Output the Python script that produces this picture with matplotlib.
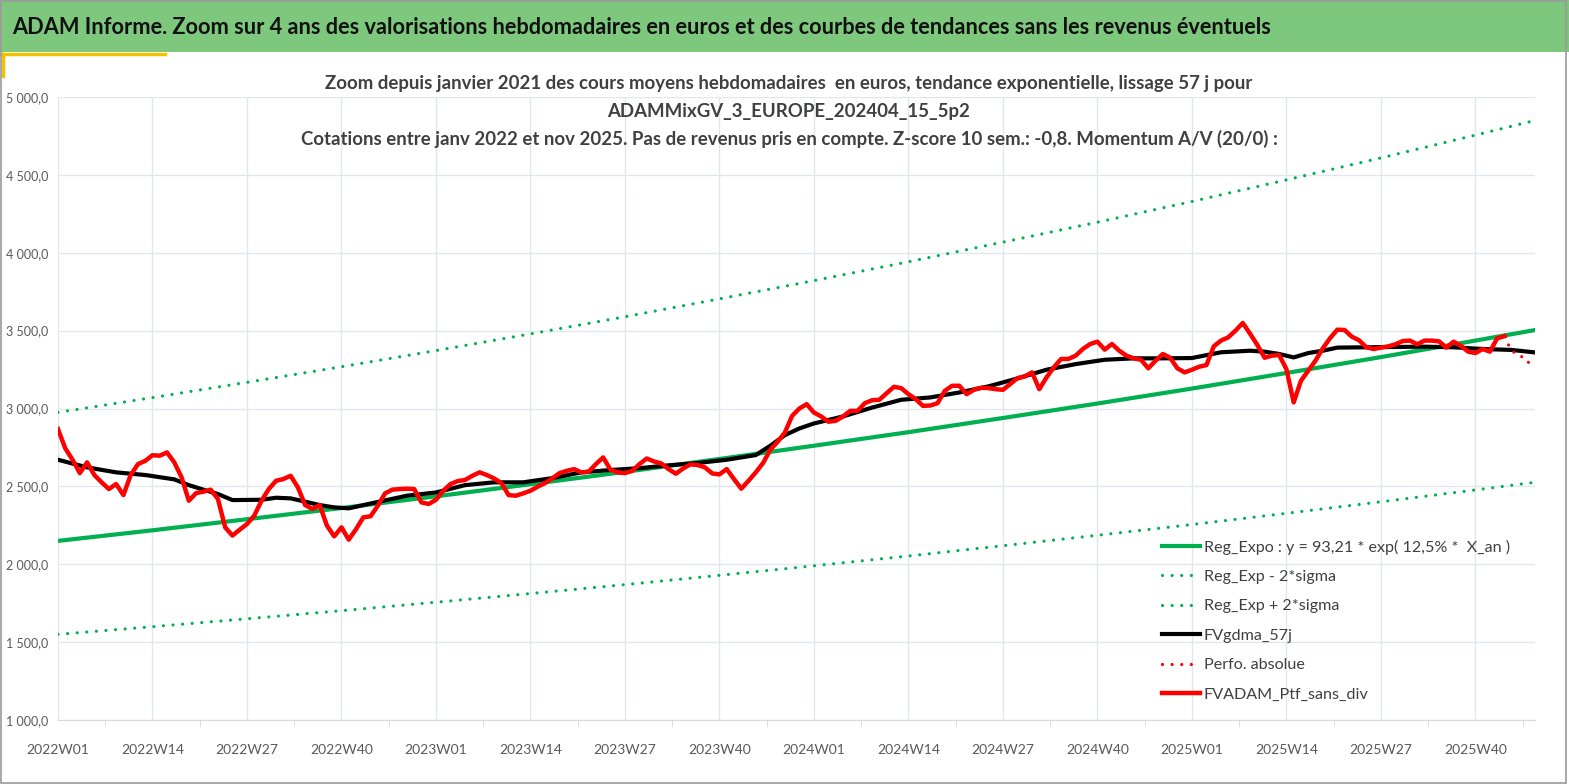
import matplotlib
matplotlib.use("Agg")
import matplotlib.pyplot as plt
from matplotlib.patches import Rectangle
from matplotlib.lines import Line2D
from matplotlib.ticker import FuncFormatter, MultipleLocator

plt.rcParams['font.family'] = ['Lato', 'DejaVu Sans']

# x axis: weekly index, 0 = 2022W01
tick_weeks = [0, 13, 26, 39, 52, 65, 78, 91, 104, 117, 130, 143, 156, 169, 182, 195]
tick_labels = ['2022W01', '2022W14', '2022W27', '2022W40', '2023W01', '2023W14', '2023W27', '2023W40',
               '2024W01', '2024W14', '2024W27', '2024W40', '2025W01', '2025W14', '2025W27', '2025W40']

# portfolio weekly values (FVADAM_Ptf_sans_div), weeks 0..199
ptf_values = [
    2868, 2744, 2671, 2585, 2654, 2573, 2526, 2483, 2515, 2444,
    2573, 2643, 2664, 2700, 2697, 2718, 2654, 2558, 2408, 2457,
    2466, 2479, 2419, 2237, 2184, 2222, 2258, 2312, 2408, 2483,
    2536, 2547, 2568, 2494, 2380, 2355, 2380, 2248, 2179, 2237,
    2158, 2225, 2301, 2308, 2376, 2455, 2479, 2483, 2485, 2483,
    2397, 2387, 2414, 2472, 2515, 2534, 2541, 2568, 2590, 2573,
    2551, 2521, 2444, 2440, 2455, 2472, 2498, 2521, 2551, 2585,
    2600, 2611, 2590, 2594, 2643, 2686, 2607, 2590, 2585, 2600,
    2643, 2679, 2660, 2647, 2611, 2581, 2615, 2641, 2637, 2622,
    2583, 2577, 2611, 2547, 2485, 2536, 2590, 2650, 2735, 2786,
    2846, 2953, 3000, 3028, 2974, 2949, 2915, 2921, 2949, 2985,
    2985, 3034, 3053, 3056, 3098, 3139, 3131, 3092, 3060, 3017,
    3019, 3034, 3113, 3146, 3146, 3092, 3120, 3133, 3131, 3124,
    3120, 3157, 3195, 3206, 3232, 3124, 3200, 3264, 3318, 3318,
    3339, 3382, 3414, 3429, 3378, 3414, 3371, 3339, 3322, 3313,
    3258, 3307, 3350, 3326, 3258, 3232, 3249, 3268, 3279, 3399,
    3436, 3457, 3500, 3549, 3480, 3408, 3326, 3339, 3343, 3253,
    3039, 3178, 3242, 3307, 3386, 3451, 3506, 3504, 3461, 3438,
    3393, 3382, 3391, 3399, 3412, 3433, 3436, 3412, 3436, 3436,
    3431, 3391, 3429, 3403, 3365, 3356, 3382, 3365, 3451, 3464,
]

# smoothed 57 days moving average (FVgdma_57j)
gdma_weeks = [0, 4, 8, 12, 16, 18, 20, 22, 24, 28, 30, 32, 34, 36, 38, 40, 44, 48, 52, 56,
              60, 64, 68, 72, 76, 80, 84, 88, 92, 96, 98, 100, 102, 104, 108, 112, 116, 120,
              124, 128, 132, 136, 140, 144, 148, 152, 156, 160, 164, 166, 168, 170, 172, 174,
              176, 180, 184, 188, 192, 196, 200, 203]
gdma_values = [2671, 2622, 2590, 2573, 2545, 2508, 2479, 2451, 2412, 2414, 2427, 2423, 2402, 2380,
               2365, 2359, 2400, 2440, 2461, 2508, 2526, 2526, 2553, 2590, 2605, 2617, 2635, 2650,
               2671, 2701, 2761, 2829, 2872, 2904, 2949, 3006, 3056, 3071, 3103, 3142, 3193, 3249,
               3285, 3313, 3322, 3322, 3324, 3361, 3371, 3365, 3350, 3328, 3356, 3371, 3391, 3393,
               3395, 3397, 3393, 3382, 3376, 3361]

# last weeks, dotted (Perfo. absolue)
perfo_weeks = [199, 200, 201, 202, 203]
perfo_values = [3464, 3365, 3355, 3295, 3300]

# exponential regression and +/- 2 sigma bands, read at every label week + last week
reg_weeks = [0, 13, 26, 39, 52, 65, 78, 91, 104, 117, 130, 143, 156, 169, 182, 195, 203]
reg_values = [2150, 2218, 2289, 2361, 2436, 2514, 2593, 2676, 2761, 2848, 2939, 3032, 3128,
              3228, 3330, 3436, 3502]
reg_low = [1550, 1599, 1650, 1702, 1756, 1812, 1869, 1929, 1990, 2053, 2119, 2186, 2255, 2327,
           2401, 2477, 2525]
reg_high = [2975, 3070, 3168, 3268, 3372, 3479, 3589, 3704, 3821, 3942, 4068, 4196, 4329, 4468,
            4609, 4755, 4847]

GREEN = '#00b050'
RED = '#ff0000'
TXT = '#404040'
GRID = '#e3e6ec'
DOTS = (0, (0.01, 3.0))

W, H = 1569, 784
fig = plt.figure(figsize=(W / 100, H / 100), dpi=100)
fig.patch.set_facecolor('white')

# header band
fig.patches.append(Rectangle((0, 1 - 52 / H), 1, 52 / H, transform=fig.transFigure,
                             facecolor='#7ec87e', edgecolor='none', zorder=0))
fig.text(12 / W, 1 - 28 / H,
         'ADAM Informe. Zoom sur 4 ans des valorisations hebdomadaires en euros et des courbes de tendances sans les revenus éventuels',
         fontsize=15.65, fontweight='bold', color='#111111', va='center', ha='left')
fig.add_artist(Line2D([0, 165 / W], [1 - 54 / H, 1 - 54 / H], transform=fig.transFigure,
                      color='#f2c200', lw=2.5))
fig.add_artist(Line2D([3 / W, 3 / W], [1 - 54 / H, 1 - 76 / H], transform=fig.transFigure,
                      color='#f2c200', lw=2.5))
fig.patches.append(Rectangle((0.0006, 0.001), 0.9975, 0.998, transform=fig.transFigure,
                             facecolor='none', edgecolor='#9a9a9a', lw=1.2, zorder=5))

# chart titles
title_lines = [
    'Zoom depuis janvier 2021 des cours moyens hebdomadaires  en euros, tendance exponentielle, lissage 57 j pour',
    'ADAMMixGV_3_EUROPE_202404_15_5p2',
    'Cotations entre janv 2022 et nov 2025. Pas de revenus pris en compte. Z-score 10 sem.: -0,8. Momentum A/V (20/0) :',
]
for k, line in enumerate(title_lines):
    fig.text(789 / W, 1 - (83 + 28 * k) / H, line, fontsize=13.4, fontweight='bold',
             color=TXT, ha='center', va='center')

ax = fig.add_axes([58 / W, 64 / H, 1477 / W, 623 / H])
ax.plot(reg_weeks, reg_values, color=GREEN, lw=3.0, label='Reg_Expo : y = 93,21 * exp( 12,5% *  X_an )')
ax.plot(reg_weeks, reg_low, color=GREEN, lw=2.3, ls=DOTS, dash_capstyle='round',
        label='Reg_Exp - 2*sigma')
ax.plot(reg_weeks, reg_high, color=GREEN, lw=2.3, ls=DOTS, dash_capstyle='round',
        label='Reg_Exp + 2*sigma')
ax.plot(gdma_weeks, gdma_values, color='black', lw=3.0, label='FVgdma_57j')
ax.plot(perfo_weeks, perfo_values, color=RED, lw=2.3, ls=DOTS, dash_capstyle='round',
        label='Perfo. absolue')
ax.plot(range(len(ptf_values)), ptf_values, color=RED, lw=3.2, solid_joinstyle='round',
        label='FVADAM_Ptf_sans_div')

ax.set_xlim(0, 203.2)
ax.set_ylim(1000, 5000)
ax.set_xticks(tick_weeks)
ax.set_xticklabels(tick_labels)
ax.xaxis.set_minor_locator(MultipleLocator(6.5))
ax.yaxis.set_major_locator(MultipleLocator(500))
ax.yaxis.set_major_formatter(FuncFormatter(lambda v, p: f"{int(v) // 1000} {int(v) % 1000:03d},0"))
ax.grid(True, which='major', color=GRID, lw=1.0)
ax.set_axisbelow(True)
for s in ['top', 'right', 'left']:
    ax.spines[s].set_visible(False)
ax.spines['bottom'].set_color('#d9d9d9')
ax.tick_params(axis='x', which='major', length=0, pad=17, labelsize=10, labelcolor='#595959')
ax.tick_params(axis='x', which='minor', length=5, color='#d9d9d9', direction='out')
ax.tick_params(axis='y', length=0, pad=7, labelsize=9, labelcolor='#595959')

leg = ax.legend(loc='upper left', bbox_to_anchor=((1156 - 58) / 1477, (720 - 533) / 623),
                frameon=False, fontsize=11.6, labelspacing=0.94, handlelength=2.3,
                handletextpad=0.25, borderaxespad=0)
for t in leg.get_texts():
    t.set_color(TXT)

fig.savefig('out.png', dpi=100)
